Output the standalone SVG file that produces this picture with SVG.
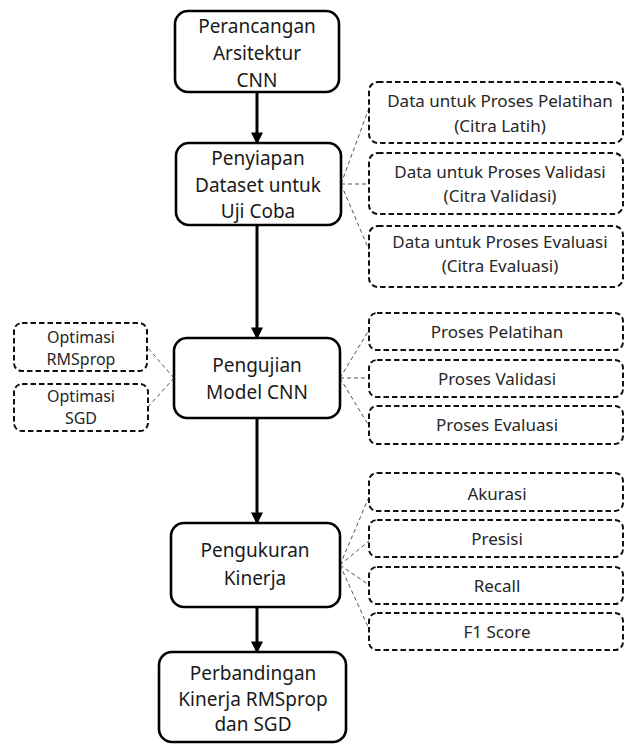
<svg xmlns="http://www.w3.org/2000/svg" width="625" height="744" viewBox="0 0 625 744">
<style>
.main{fill:#fff;stroke:#000;stroke-width:2.6}
.sub{fill:#fff;stroke:#111;stroke-width:2;stroke-dasharray:5.5 3}
.t{font-family:"Noto Sans","Open Sans",sans-serif;font-size:19px;fill:#1a1a1a;text-anchor:middle}
.s{font-family:"Noto Sans","Open Sans",sans-serif;font-size:17px;fill:#262626;text-anchor:middle}
.o{font-family:"Noto Sans","Open Sans",sans-serif;font-size:16px;fill:#262626;text-anchor:middle}
.flow{stroke:#000;stroke-width:3;fill:none}
.dash{stroke:#555;stroke-width:1;stroke-dasharray:4 3;fill:none}
</style>
<defs>
<marker id="ah" markerWidth="4" markerHeight="4" refX="3.2" refY="2" orient="auto" markerUnits="strokeWidth">
<path d="M0,0 L4,2 L0,4 Z" fill="#000"/>
</marker>
</defs>
<rect width="625" height="744" fill="#fff"/>
<g id="connectors">
<line class="flow" x1="257" y1="92" x2="257" y2="142" marker-end="url(#ah)"/>
<line class="flow" x1="257" y1="225" x2="257" y2="337" marker-end="url(#ah)"/>
<line class="flow" x1="257" y1="418" x2="257" y2="522" marker-end="url(#ah)"/>
<line class="flow" x1="257" y1="607" x2="257" y2="651" marker-end="url(#ah)"/>
<line class="dash" x1="341" y1="184" x2="369" y2="108"/>
<line class="dash" x1="341" y1="184" x2="369" y2="184"/>
<line class="dash" x1="341" y1="184" x2="369" y2="250"/>
<line class="dash" x1="340" y1="378" x2="369" y2="330"/>
<line class="dash" x1="340" y1="378" x2="369" y2="378"/>
<line class="dash" x1="340" y1="378" x2="369" y2="426"/>
<line class="dash" x1="174" y1="378" x2="147" y2="347"/>
<line class="dash" x1="174" y1="378" x2="148" y2="407"/>
<line class="dash" x1="340" y1="565" x2="369" y2="497"/>
<line class="dash" x1="340" y1="565" x2="369" y2="541"/>
<line class="dash" x1="340" y1="565" x2="369" y2="585"/>
<line class="dash" x1="340" y1="565" x2="369" y2="629"/>
</g>
<g id="n1"><rect class="main" x="175" y="11" width="164" height="81" rx="13"/>
<text class="t" x="257" y="33">Perancangan</text><text class="t" x="257" y="60">Arsitektur</text><text class="t" x="257" y="87">CNN</text></g>
<g id="n2"><rect class="main" x="176" y="143" width="165" height="82" rx="13"/>
<text class="t" x="258" y="165">Penyiapan</text><text class="t" x="258" y="192">Dataset untuk</text><text class="t" x="258" y="218">Uji Coba</text></g>
<g id="n3"><rect class="main" x="174" y="338" width="166" height="80" rx="13"/>
<text class="t" x="257" y="372">Pengujian</text><text class="t" x="257" y="399">Model CNN</text></g>
<g id="n4"><rect class="main" x="171" y="523" width="169" height="84" rx="13"/>
<text class="t" x="255" y="557">Pengukuran</text><text class="t" x="255" y="585">Kinerja</text></g>
<g id="n5"><rect class="main" x="159" y="652" width="187" height="90" rx="13"/>
<text class="t" x="253" y="680">Perbandingan</text><text class="t" x="253" y="706">Kinerja RMSprop</text><text class="t" x="253" y="731">dan SGD</text></g>
<g id="d1"><rect class="sub" x="369" y="82" width="254" height="61" rx="9"/>
<text class="s" x="500" y="107">Data untuk Proses Pelatihan</text><text class="s" x="500" y="132">(Citra Latih)</text></g>
<g id="d2"><rect class="sub" x="369" y="153" width="254" height="61" rx="9"/>
<text class="s" x="500" y="178">Data untuk Proses Validasi</text><text class="s" x="500" y="202">(Citra Validasi)</text></g>
<g id="d3"><rect class="sub" x="369" y="226" width="254" height="61" rx="9"/>
<text class="s" x="500" y="248">Data untuk Proses Evaluasi</text><text class="s" x="500" y="272">(Citra Evaluasi)</text></g>
<g id="p1"><rect class="sub" x="369" y="313" width="254" height="37" rx="8"/><text class="s" x="497" y="338">Proses Pelatihan</text></g>
<g id="p2"><rect class="sub" x="369" y="360" width="254" height="37" rx="8"/><text class="s" x="497" y="385">Proses Validasi</text></g>
<g id="p3"><rect class="sub" x="369" y="406" width="254" height="38" rx="8"/><text class="s" x="497" y="431">Proses Evaluasi</text></g>
<g id="o1"><rect class="sub" x="14" y="323" width="133" height="48" rx="8"/>
<text class="o" x="81" y="343">Optimasi</text><text class="o" x="81" y="365">RMSprop</text></g>
<g id="o2"><rect class="sub" x="14" y="384" width="134" height="47" rx="8"/>
<text class="o" x="81" y="402">Optimasi</text><text class="o" x="81" y="424">SGD</text></g>
<g id="m1"><rect class="sub" x="369" y="473" width="254" height="38" rx="8"/><text class="s" x="497" y="500">Akurasi</text></g>
<g id="m2"><rect class="sub" x="369" y="520" width="254" height="37" rx="8"/><text class="s" x="497" y="545">Presisi</text></g>
<g id="m3"><rect class="sub" x="369" y="567" width="254" height="37" rx="8"/><text class="s" x="497" y="592">Recall</text></g>
<g id="m4"><rect class="sub" x="369" y="613" width="254" height="37" rx="8"/><text class="s" x="497" y="638">F1 Score</text></g>
</svg>
